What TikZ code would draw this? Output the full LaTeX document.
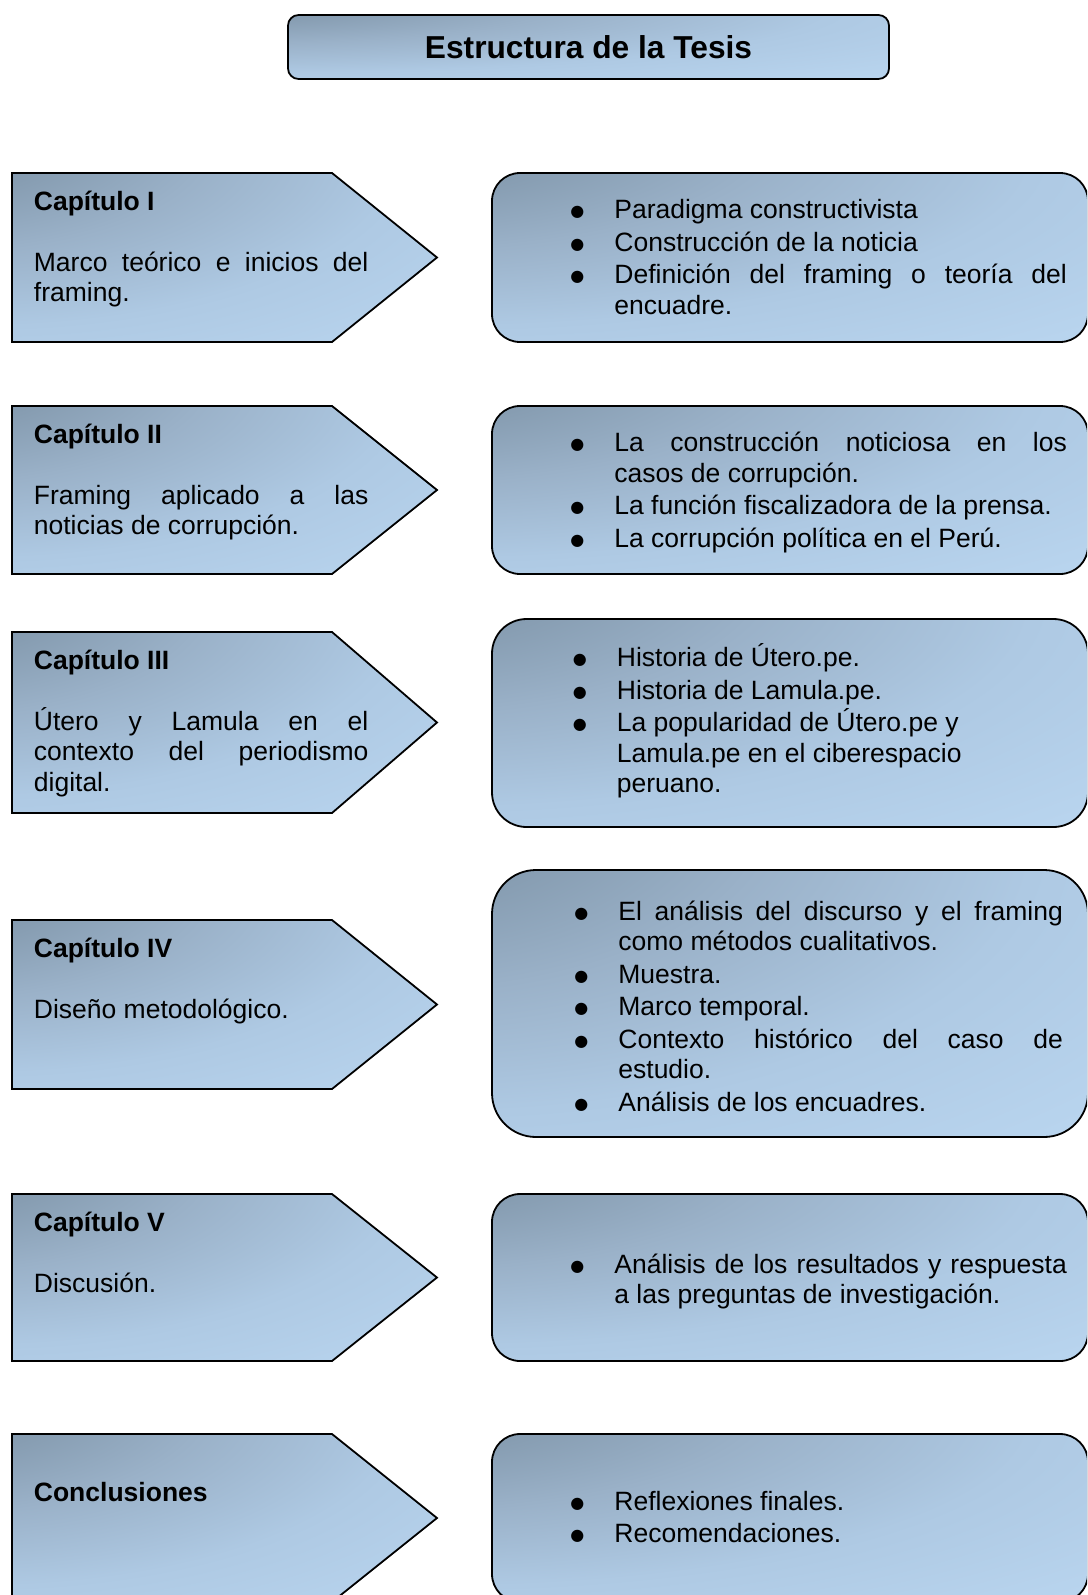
\documentclass[tikz,border=0pt]{standalone}
\usepackage{fontspec}
\setmainfont{Liberation Sans}
\newfontfamily\symfont{DejaVu Sans}
\definecolor{cdark}{RGB}{110,130,148}
\definecolor{cmida}{RGB}{128,150,170}
\definecolor{cmidb}{RGB}{154,177,200}
\definecolor{cmidc}{RGB}{174,201,227}
\definecolor{clight}{RGB}{185,213,239}
\pgfdeclareradialshading{tlshade}{\pgfpoint{-42bp}{42bp}}{color(0bp)=(cdark); color(15bp)=(cmida); color(32bp)=(cmidb); color(50bp)=(cmidc); color(70bp)=(clight); color(170bp)=(clight)}
\newcommand\bul{\makebox[22pt][l]{\raisebox{1pt}{\symfont\fontsize{8}{8}\selectfont ●}}}
\newcommand\itm[2][226.25pt]{\par\noindent\bul\parbox[t]{#1}{\fontsize{13.25}{15.25}\selectfont\leftskip=0pt\rightskip=0pt\parfillskip=0pt plus 1fil\relax #2\par\xdef\lastdp{\the\prevdepth}}\par\prevdepth=\lastdp\relax}
\newcommand\fst{\rule{0pt}{14pt}}
\hbadness=10000
\begin{document}
\begin{tikzpicture}[x=0.5pt,y=-0.5pt,
  shapebox/.style={shading=tlshade, draw=black, line width=0.9pt},
  bodytext/.style={inner sep=0pt, anchor=north west, align=justify,
    font=\fontsize{13.25}{15.25}\selectfont},
  chaptext/.style={bodytext, text width=167.25pt},
  listtext/.style={bodytext, text width=248.25pt}]
\useasboundingbox (0,0) rectangle (1087,1595);
\clip (0,0) rectangle (1087,1595);
% title
\shadedraw[shapebox, rounded corners=5.3pt] (288,15) rectangle (889,79);
\node[inner sep=0pt, font=\bfseries\fontsize{15.85}{19}\selectfont] (title) at (588.5,47) {Estructura de la Tesis};
% pentagons
\foreach \t/\b in {173/342, 406/574, 632/813, 920/1089, 1194/1361, 1434/1602}{
  \pgfmathsetmacro\m{(\t+\b)/2}
  \shadedraw[shapebox] (12,\t) -- (332,\t) -- (437,\m) -- (332,\b) -- (12,\b) -- cycle;
}
% right boxes
\shadedraw[shapebox, rounded corners=14pt] (492,173) rectangle (1088,342);
\shadedraw[shapebox, rounded corners=14pt] (492,406) rectangle (1088,574);
\shadedraw[shapebox, rounded corners=17.3pt] (492,619) rectangle (1088,827);
\shadedraw[shapebox, rounded corners=22pt] (492,870) rectangle (1088,1137);
\shadedraw[shapebox, rounded corners=14pt] (492,1194) rectangle (1088,1361);
\shadedraw[shapebox, rounded corners=14pt] (492,1434) rectangle (1088,1602);
% chapter texts
\node[chaptext] (c1) at (33.5,182) {\fst{\bfseries Capítulo I}\\[15.25pt]Marco teórico e inicios del\linebreak framing.};
\node[chaptext] (c2) at (33.5,415) {\fst{\bfseries Capítulo II}\\[15.25pt]Framing aplicado a las\linebreak noticias de corrupción.};
\node[chaptext] (c3) at (33.5,641) {\fst{\bfseries Capítulo III}\\[15.25pt]Útero y Lamula en el\linebreak contexto del periodismo\linebreak digital.};
\node[chaptext] (c4) at (33.5,929) {\fst{\bfseries Capítulo IV}\\[15.25pt]Diseño metodológico.};
\node[chaptext] (c5) at (33.5,1203) {\fst{\bfseries Capítulo V}\\[15.25pt]Discusión.};
\node[chaptext] (c6) at (33.5,1473.5) {\fst{\bfseries Conclusiones}};
% list texts
\node[listtext] (l1) at (570,186) {\setlength\parskip{1pt}%
\itm{\fst Paradigma constructivista}
\itm{Construcción de la noticia}
\itm{Definición del framing o teoría del\linebreak encuadre.}};
\node[listtext] (l2) at (570,419) {\setlength\parskip{1pt}%
\itm{\fst La construcción noticiosa en los\linebreak casos de corrupción.}
\itm{La función fiscalizadora de la prensa.}
\itm{La corrupción política en el Perú.}};
\node[listtext] (l3) at (572.5,634) {\setlength\parskip{1pt}%
\itm{\fst Historia de Útero.pe.}
\itm{Historia de Lamula.pe.}
\itm{La popularidad de Útero.pe y\newline Lamula.pe en el ciberespacio\newline peruano.}};
\node[listtext, text width=244.25pt] (l4) at (574,887.5) {\setlength\parskip{1pt}%
\itm[222.25pt]{\fst El análisis del discurso y el framing\linebreak como métodos cualitativos.}
\itm[222.25pt]{Muestra.}
\itm[222.25pt]{Marco temporal.}
\itm[222.25pt]{Contexto histórico del caso de\linebreak estudio.}
\itm[222.25pt]{Análisis de los encuadres.}};
\node[listtext] (l5) at (570,1240.5) {\setlength\parskip{1pt}%
\itm{\fst Análisis de los resultados y respuesta\linebreak a las preguntas de investigación.}};
\node[listtext] (l6) at (570,1477.5) {\setlength\parskip{1pt}%
\itm{\fst Reflexiones finales.}
\itm{Recomendaciones.}};
\end{tikzpicture}
\end{document}
